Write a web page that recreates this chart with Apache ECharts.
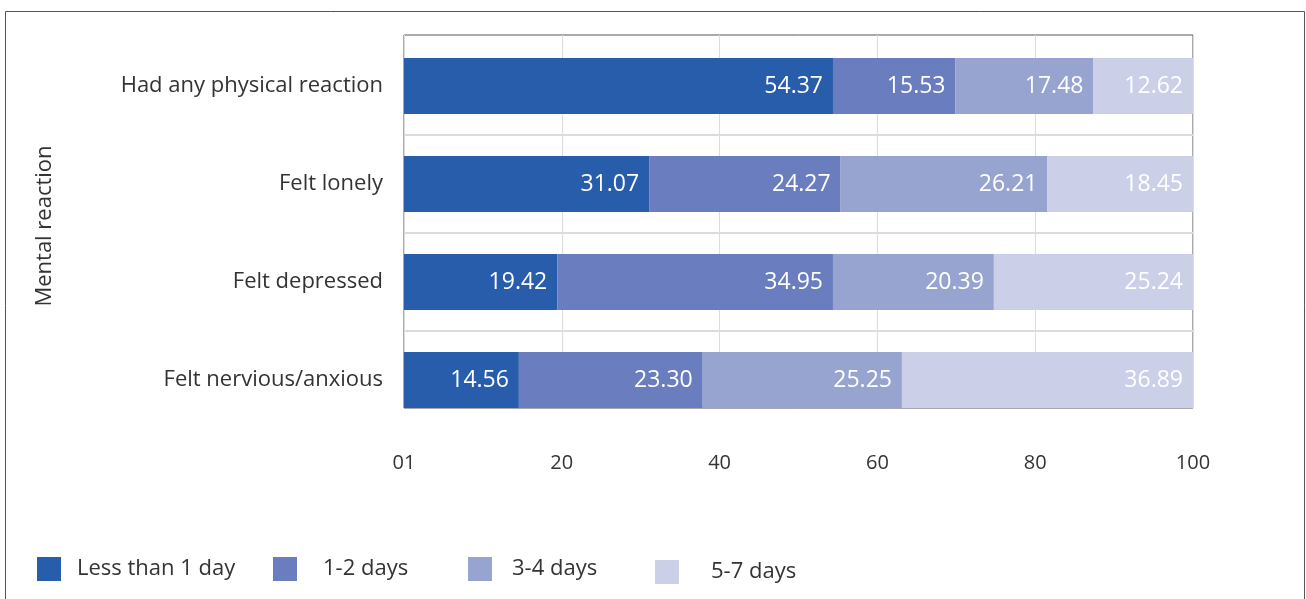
<!DOCTYPE html>
<html>
<head>
<meta charset="utf-8">
<script src="https://cdn.jsdelivr.net/npm/echarts@6/dist/echarts.min.js"></script>
<style>
  html, body { margin: 0; padding: 0; background: #fff; }
  #chart { width: 1306px; height: 599px; }
</style>
</head>
<body>
<div id="chart"></div>
<script>
// data
const categories = ['Had any physical reaction', 'Felt lonely', 'Felt depressed', 'Felt nervious/anxious'];
const lessThan1 = [54.37, 31.07, 19.42, 14.56];
const days12 = [15.53, 24.27, 34.95, 23.30];
const days34 = [17.48, 26.21, 20.39, 25.25];
const days57 = [12.62, 18.45, 25.24, 36.89];
const xTicks = [0, 20, 40, 60, 80, 100];

const seriesNames = ['Less than 1 day', '1-2 days', '3-4 days', '5-7 days'];
const seriesData = [lessThan1, days12, days34, days57];
const colors = ['#285dab', '#6a7dbf', '#98a4d0', '#cbcfe8'];

const font = '"Open Sans", Lato, sans-serif';
const myChart = echarts.init(document.getElementById('chart'));

const legendLeft = [37, 273, 468, 655];
const legendTop = [557, 557, 557, 560];
const legendPad = [11, 21, 15, 27];

const option = {
    backgroundColor: '#fff',
    animation: false,
    color: colors,
    graphic: [
        {
            type: 'rect',
            shape: { x: 5.5, y: 11.5, width: 1299, height: 620 },
            style: { fill: 'none', stroke: '#555', lineWidth: 1 },
            silent: true
        },
        {
            type: 'text',
            x: 45,
            y: 226,
            rotation: Math.PI / 2,
            style: {
                text: 'Mental reaction',
                fontSize: 22,
                fontFamily: font,
                fill: '#333',
                align: 'center',
                verticalAlign: 'middle'
            }
        }
    ],
    legend: seriesNames.map((name, i) => ({
        data: [name],
        left: legendLeft[i],
        top: legendTop[i],
        padding: 0,
        icon: 'rect',
        itemWidth: 24,
        itemHeight: 24,
        textStyle: {
            fontSize: 22,
            fontFamily: font,
            color: '#333',
            padding: [0, 0, 0, legendPad[i]]
        }
    })),
    grid: [
        // bars
        { left: 404, right: 113, top: 37, bottom: 170 },
        // frame, vertical gridlines and x labels
        { left: 404, right: 113, top: 35, bottom: 191, show: true, borderColor: '#555', borderWidth: 1, backgroundColor: 'transparent' }
    ],
    xAxis: [
        { gridIndex: 0, type: 'value', min: 0, max: 100, show: false },
        {
            gridIndex: 1,
            type: 'value',
            min: 0,
            max: 100,
            interval: 20,
            axisLine: { show: false },
            axisTick: { show: false },
            splitLine: { show: true, lineStyle: { color: '#dcdcdc', width: 1 } },
            axisLabel: {
                fontSize: 20,
                fontFamily: font,
                color: '#333',
                margin: 45,
                formatter: v => (v === xTicks[0] ? '01' : String(v))
            }
        }
    ],
    yAxis: [
        {
            gridIndex: 0,
            type: 'category',
            inverse: true,
            data: categories,
            axisLine: { show: false },
            axisTick: { show: false },
            splitLine: {
                show: true,
                lineStyle: { color: ['rgba(0,0,0,0)', '#dcdcdc', '#dcdcdc', '#dcdcdc', 'rgba(0,0,0,0)'], width: 2 }
            },
            axisLabel: {
                fontSize: 22,
                fontFamily: font,
                color: '#333',
                margin: 21,
                padding: [4, 0, 0, 0]
            }
        },
        { gridIndex: 1, type: 'value', show: false }
    ],
    series: seriesData.map((d, i) => ({
        name: seriesNames[i],
        type: 'bar',
        stack: 'total',
        xAxisIndex: 0,
        yAxisIndex: 0,
        barWidth: 56,
        data: d,
        itemStyle: { color: colors[i] },
        label: {
            show: true,
            position: 'insideRight',
            distance: 10,
            fontSize: 23,
            fontFamily: font,
            color: '#fff',
            formatter: p => p.value.toFixed(2)
        }
    }))
};

myChart.setOption(option);

window.addEventListener('resize', () => {
    myChart.resize();
});
</script>
</body>
</html>
